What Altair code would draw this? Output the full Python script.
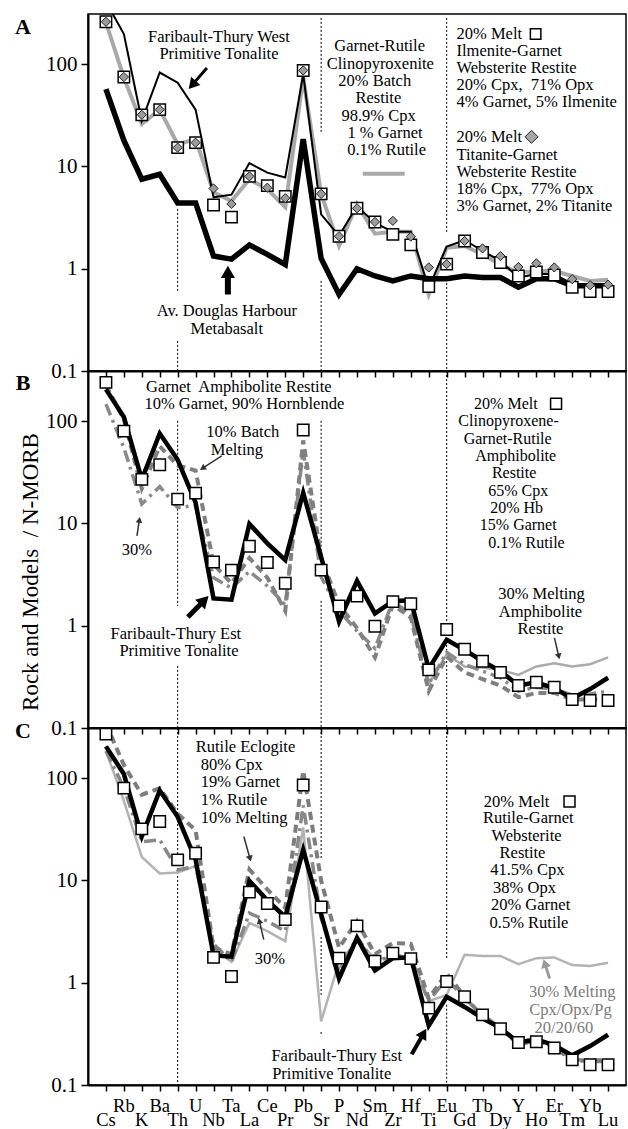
import math
import altair as alt
import pandas as pd

SERIF = "Liberation Serif"

elements = ["Cs", "Rb", "K", "Ba", "Th", "U", "Nb", "Ta", "La", "Ce", "Pr", "Pb", "Sr", "P",
            "Nd", "Sm", "Zr", "Hf", "Ti", "Eu", "Gd", "Tb", "Dy", "Y", "Ho", "Er", "Tm", "Yb", "Lu"]

# ---------------- Panel A ----------------
a_ft_west = [410, 197, 28, 83, 66, 36, 5.0, 5.3, 10.8, 8.7, 7.8, 80, 3.4, 2.1, 4.1, 2.8, 2.3, 2.3,
             0.65, 1.65, 1.9, 1.5, 1.19, 0.82, 0.89, 0.89, 0.71, 0.70, 0.70]
a_douglas = [57, 18, 7.5, 8.4, 4.4, 4.4, 1.33, 1.24, 1.71, 1.38, 1.1, 18.5, 1.26, 0.56, 1.0, 0.85,
             0.76, 0.85, 0.8, 0.8, 0.85, 0.82, 0.82, 0.66, 0.8, 0.8, 0.68, 0.68, 0.68]
a_model = [256, 74, 26, 36, 16.5, 18.5, 5.6, 4.6, 7.5, 6.0, 4.0, 74, 5.4, 1.67, 4.3, 2.2, 2.3, 2.3,
           0.56, 1.6, 1.67, 1.38, 1.1, 0.91, 0.95, 0.95, 0.85, 0.76, 0.78]
a_squares = [260, 75, 32, 36, 15.3, 17.1, 4.2, 3.2, 8.0, 6.5, 5.1, 87, 5.4, 2.08, 3.9, 2.87, 2.17, 1.71,
             0.668, 1.11, 1.87, 1.44, 1.15, 0.85, 0.93, 0.87, 0.66, 0.6, 0.6]
a_diamonds = [260, 75, 32, 36, 15.3, 17.1, 6.1, 4.3, 8.0, 6.2, 4.9, 87, 5.4, 2.08, 3.9, 2.87, 2.94, 2.06,
              1.03, 1.11, 1.87, 1.58, 1.33, 1.04, 1.13, 1.03, 0.79, 0.69, 0.7]

# ---------------- Panels B and C: rock ----------------
ft_est = [205, 110, 27, 76, 42, 16, 1.85, 1.8, 9.9, 6.4, 4.4, 20, 4.7, 1.1, 2.75, 1.32, 1.74, 1.78,
          0.38, 0.73, 0.58, 0.45, 0.36, 0.26, 0.28, 0.245, 0.195, 0.24, 0.31]

# ---------------- Panel B models ----------------
b_squares = [240, 80, 27, 37.6, 17.3, 19.8, 4.2, 3.5, 6.0, 4.15, 2.6, 82, 3.5, 1.56, 1.95, 0.99, 1.72,
             1.64, 0.37, 0.92, 0.59, 0.45, 0.35, 0.26, 0.28, 0.25, 0.19, 0.186, 0.186]
b_batch10 = [225, 105, 22, 57, 37, 33, 4.0, 2.6, 4.6, 2.95, 1.4, 65, 4.6, 1.6, 0.95, 0.49, 1.6, 1.2,
             0.23, 0.5, 0.35, 0.3, 0.26, 0.2, 0.22, 0.22, 0.19, 0.19, 0.19]
b_melt30 = [147, 55, 15.5, 23, 14.3, 15, 2.95, 2.34, 3.4, 2.45, 1.6, 52, 3.0, 1.4, 0.89, 0.6, 1.74,
            1.29, 0.27, 0.55, 0.42, 0.36, 0.31, 0.23, 0.25, 0.24, 0.21, 0.215, 0.23]
b_amph30 = [None] * 18 + [0.27, 0.53, 0.40, 0.39, 0.37, 0.33, 0.40, 0.43, 0.40, 0.42, 0.49]

# ---------------- Panel C models ----------------
c_squares = [270, 80, 32, 37.7, 15.9, 18.5, 1.77, 1.15, 7.7, 5.95, 4.15, 86, 5.5, 1.74, 3.6, 1.62, 1.95,
             1.72, 0.565, 1.03, 0.73, 0.485, 0.355, 0.26, 0.265, 0.23, 0.176, 0.158, 0.158]
c_melt10 = [340, 135, 69, 80, 45, 31, 2.2, 1.9, 12.8, 8.2, 5.4, 118, 10, 2.2, 4.0, 1.9, 2.45, 2.4,
            0.7, 1.24, 0.73, 0.47, 0.36, 0.25, 0.27, 0.24, 0.17, 0.175, 0.175]
c_melt30 = [185, 81, 24, 25, 12.7, 13.7, 2.4, 1.6, 4.8, 4.0, 3.2, 54, 4.3, 1.29, 2.8, 1.56, 1.88, 1.74,
            0.66, 1.1, 0.7, 0.49, 0.36, 0.26, 0.27, 0.24, 0.18, 0.17, 0.17]
c_cpx30 = [185, 60, 17, 11.7, 12, 13.8, 2.2, 1.6, 3.85, 3.2, 2.55, 33, 0.42, 1.6, 2.54, 1.74, 1.74,
           1.74, 0.66, 0.76, 1.88, 1.83, 1.83, 1.52, 1.74, 1.77, 1.49, 1.46, 1.57]

# ---------------- annotations (element index, value, text) ----------------
a_text_center = [
    (6.30, 185, "Faribault-Thury West"), (6.30, 126, "Primitive Tonalite"),
    (6.74, 0.386, "Av. Douglas Harbour"), (6.74, 0.258, "Metabasalt"),
    (15.26, 151, "Garnet-Rutile"), (15.3, 101, "Clinopyroxenite"), (14.99, 68.8, "20% Batch"),
    (15.19, 46.9, "Restite"), (15.2, 31.3, "98.9% Cpx"), (15.56, 21.3, "1 % Garnet"),
    (15.65, 14.5, "0.1% Rutile"),
]
a_text_left = [
    (19.55, 198, "20% Melt"), (19.55, 135, "Ilmenite-Garnet"), (19.55, 92.2, "Websterite Restite"),
    (19.55, 62.9, "20% Cpx,\u00a0 71% Opx"), (19.55, 42.9, "4% Garnet, 5% Ilmenite"),
    (19.55, 19.5, "20% Melt"), (19.55, 13.0, "Titanite-Garnet"), (19.55, 8.85, "Websterite Restite"),
    (19.55, 6.04, "18% Cpx,\u00a0 77% Opx"), (19.55, 4.11, "3% Garnet, 2% Titanite"),
]
b_text_center = [
    (7.41, 217, "Garnet\u00a0 Amphibolite Restite"), (7.72, 146, "10% Garnet, 90% Hornblende"),
    (7.63, 78.7, "10% Batch"), (7.30, 52.5, "Melting"), (1.73, 5.52, "30%"),
    (3.90, 0.832, "Faribault-Thury Est"), (4.07, 0.566, "Primitive Tonalite"),
    (24.29, 2.05, "30% Melting"), (24.23, 1.36, "Amphibolite"), (24.23, 0.93, "Restite"),
]
b_text_block = [
    (22.3, 148, "20% Melt"), (22.45, 100, "Clinopyroxene-"), (22.4, 67.6, "Garnet-Rutile"),
    (22.85, 45.8, "Amphibolite"), (22.76, 30.9, "Restite"), (22.99, 20.9, "65% Cpx"),
    (22.9, 14.1, "20% Hb"), (22.99, 9.56, "15% Garnet"), (23.45, 6.46, "0.1% Rutile"),
]
c_text_left = [
    (5.01, 204, "Rutile Eclogite"), (5.29, 136, "80% Cpx"), (5.29, 92.9, "19% Garnet"),
    (5.29, 61.9, "1% Rutile"), (5.29, 40.4, "10% Melting"),
]
c_text_center = [
    (9.14, 1.72, "30%"), (12.87, 0.194, "Faribault-Thury Est"), (12.59, 0.129, "Primitive Tonalite"),
    (22.9, 59.2, "20% Melt"), (23.55, 40.4, "Rutile-Garnet"), (23.45, 27.5, "Websterite"),
    (23.23, 18.7, "Restite"), (23.5, 12.8, "41.5% Cpx"), (23.34, 8.53, "38% Opx"),
    (23.68, 5.81, "20% Garnet"), (23.59, 3.87, "0.5% Rutile"),
]
c_text_grey = [(26.0, 0.818, "30% Melting"), (25.9, 0.545, "Cpx/Opx/Pg"), (25.54, 0.364, "20/20/60")]

# dotted separators: (element index, top value, bottom value)
a_dotted = [(4, 3.85, 0.607), (4, 0.197, 0.1), (12, 284, 20.8), (12, 0.76, 0.1), (19, 284, 2.19), (19, 0.726, 0.1)]
b_dotted = [(4, 101, 1.56), (4, 0.405, 0.1), (12, 101, 4.82), (12, 1.75, 0.1), (19, 310, 0.95), (19, 0.71, 0.1)]
c_dotted = [(4, 310, 0.1), (12, 310, 16.4), (12, 2.8, 0.76), (12, 0.33, 0.3), (19, 310, 1.72), (19, 0.61, 0.1)]

W, H = 538, 357
YMAX = 310
XS = alt.Scale(domain=[-1, 29], nice=False, zero=False)
YS = alt.Scale(type="log", domain=[0.1, YMAX], nice=False)
XAX = alt.Axis(values=list(range(29)), labels=False, title=None, grid=False, ticks=True, tickSize=6,
               tickWidth=1.5, tickColor="black", domainColor="black", domainWidth=2)
YAX = alt.Axis(values=[0.1, 1, 10, 100], format="~g", title=None, grid=False, tickSize=7, tickWidth=1.5,
               tickColor="black", domainColor="black", domainWidth=2, labelFont=SERIF, labelFontSize=21,
               labelColor="black", labelPadding=4)


def X(f="i"):
    return alt.X(f"{f}:Q", scale=XS, axis=XAX)


def Y(f="v"):
    return alt.Y(f"{f}:Q", scale=YS, axis=YAX)


def sdf(vals):
    return pd.DataFrame({"i": list(range(len(vals))), "v": vals}).dropna()


def line(vals, color, width, dash=None):
    kw = dict(color=color, strokeWidth=width, clip=True)
    if dash:
        kw["strokeDash"] = dash
    return alt.Chart(sdf(vals)).mark_line(**kw).encode(x=X(), y=Y())


def points(vals, shape, size, fill, stroke, sw):
    return alt.Chart(sdf(vals)).mark_point(shape=shape, size=size, filled=True, fill=fill, stroke=stroke,
                                           strokeWidth=sw, opacity=1, clip=True).encode(x=X(), y=Y())


def key(i, v, shape, size, fill, stroke, sw):
    return alt.Chart(pd.DataFrame({"i": [i], "v": [v]})).mark_point(
        shape=shape, size=size, filled=True, fill=fill, stroke=stroke, strokeWidth=sw, opacity=1
    ).encode(x=X(), y=Y())


def texts(rows, align="center", color="black", size=16.5):
    df = pd.DataFrame(rows, columns=["i", "v", "t"])
    return alt.Chart(df).mark_text(align=align, baseline="middle", font=SERIF, fontSize=size,
                                   color=color).encode(x=X(), y=Y(), text="t:N")


def dotted(rows):
    df = pd.DataFrame(rows, columns=["i", "v", "v2"])
    return alt.Chart(df).mark_rule(color="black", strokeWidth=1, strokeDash=[2, 2]).encode(
        x=X(), y=Y(), y2="v2:Q")


PXI = W / 30
PXD = H / (math.log10(YMAX) + 1)


def to_px(i, v):
    return ((i + 1) * PXI, (math.log10(YMAX) - math.log10(v)) * PXD)


def from_px(x, y):
    return (x / PXI - 1, 10 ** (math.log10(YMAX) - y / PXD))


def arrow(tail, head, color, width, hsize):
    tx, ty = to_px(*tail)
    hx, hy = to_px(*head)
    dx, dy = hx - tx, hy - ty
    L = math.hypot(dx, dy)
    ux, uy = dx / L, dy / L
    h = 0.433 * math.sqrt(hsize)
    ci, cv = from_px(hx - h * ux, hy - h * uy)
    ei, ev = from_px(hx - 1.5 * h * ux, hy - 1.5 * h * uy)
    ang = math.degrees(math.atan2(dx, -dy)) % 360
    shaft = alt.Chart(pd.DataFrame({"i": [tail[0]], "v": [tail[1]], "i2": [ei], "v2": [ev]})).mark_rule(
        color=color, strokeWidth=width).encode(x=X(), y=Y(), x2="i2:Q", y2="v2:Q")
    tip = alt.Chart(pd.DataFrame({"i": [ci], "v": [cv]})).mark_point(
        shape="triangle-up", size=hsize, filled=True, color=color, opacity=1, angle=ang).encode(x=X(), y=Y())
    return [shaft, tip]


def letter(ch, yoff):
    return alt.Chart(pd.DataFrame({"t": [ch]})).mark_text(
        font=SERIF, fontSize=22, fontWeight="bold", align="center", baseline="middle", color="black"
    ).encode(text="t:N", x=alt.value(-65), y=alt.value(yoff))


SQ = dict(shape="square", size=130, fill="white", stroke="black", sw=1.5)

# ---------------- Panel A ----------------
layersA = [
    dotted(a_dotted),
    line(a_model, "#a9a9a9", 4),
    line(a_douglas, "black", 5.5),
    line(a_ft_west, "black", 2),
    points(a_squares, **SQ),
    points(a_diamonds, "diamond", 85, "#9c9c9c", "#222222", 1),
    texts(a_text_center),
    texts(a_text_left, align="left"),
    alt.Chart(pd.DataFrame({"i": [14.32], "v": [8.47], "i2": [16.66]})).mark_rule(
        color="#a9a9a9", strokeWidth=4).encode(x=X(), y=Y(), x2="i2:Q"),
    key(23.96, 198, "square", 110, "white", "black", 1.5),
    key(23.73, 19.5, "diamond", 170, "#a6a6a6", "#222222", 1),
    letter("A", 13),
]
layersA += arrow((5.63, 92), (4.62, 57.4), "black", 3, 150)
layersA += arrow((6.8, 0.56), (6.8, 1.07), "black", 6, 200)
panelA = alt.layer(*layersA).properties(width=W, height=H)

# ---------------- Panel B ----------------
layersB = [
    dotted(b_dotted),
    line(b_amph30, "#ababab", 2.5),
    line(b_melt30, "#8a8a8a", 3.5, [12, 5, 3, 5]),
    line(b_batch10, "#808080", 4, [8, 5]),
    line(ft_est, "black", 4.5),
    points(b_squares, **SQ),
    texts(b_text_center),
    texts(b_text_block, size=16),
    key(25.1, 148, "square", 120, "white", "black", 1.5),
    letter("B", 12),
    alt.Chart(pd.DataFrame({"t": ["Rock and Models\u00a0 / N-MORB"]})).mark_text(
        angle=270, font=SERIF, fontSize=23, align="center", baseline="middle", color="black"
    ).encode(text="t:N", x=alt.value(-57), y=alt.value(201)),
]
layersB += arrow((6.46, 45.8), (5.24, 33.4), "#333333", 1.5, 50)
layersB += arrow((1.73, 7.57), (1.89, 11.6), "#333333", 1.5, 45)
layersB += arrow((4.57, 1.22), (5.72, 1.95), "black", 5, 190)
layersB += arrow((25.01, 0.76), (25.29, 0.47), "#333333", 1.5, 45)
panelB = alt.layer(*layersB).properties(width=W, height=H)

# ---------------- Panel C ----------------
lab = pd.DataFrame({"i": list(range(len(elements))), "t": elements,
                    "row": [k % 2 for k in range(len(elements))]})
lab_top = alt.Chart(lab).transform_filter("datum.row == 1").mark_text(
    font=SERIF, fontSize=18.5, baseline="alphabetic", align="center", color="black"
).encode(x=X(), y=alt.value(H + 27), text="t:N")
lab_bot = alt.Chart(lab).transform_filter("datum.row == 0").mark_text(
    font=SERIF, fontSize=18.5, baseline="alphabetic", align="center", color="black"
).encode(x=X(), y=alt.value(H + 41), text="t:N")

layersC = [
    dotted(c_dotted),
    line(c_cpx30, "#b3b3b3", 2.5),
    line(c_melt30, "#888888", 3.5, [12, 5, 3, 5]),
    line(c_melt10, "#7d7d7d", 4, [8, 5]),
    line(ft_est, "black", 4.5),
    points(c_squares, **SQ),
    texts(c_text_left, align="left"),
    texts(c_text_center),
    texts(c_text_grey, color="#7a7a7a"),
    key(25.85, 59.2, "square", 120, "white", "black", 1.5),
    letter("C", 3),
    lab_top,
    lab_bot,
]
layersC += arrow((7.69, 26.9), (8.08, 15.3), "#333333", 1.5, 50)
layersC += arrow((8.80, 2.64), (8.52, 4.3), "#333333", 1.5, 45)
layersC += arrow((17.05, 0.2), (17.86, 0.355), "black", 4, 150)
layersC += arrow((24.74, 1.10), (24.40, 1.70), "#9a9a9a", 3, 100)
panelC = alt.layer(*layersC).properties(width=W, height=H)

chart = alt.vconcat(panelA, panelB, panelC, spacing=0, bounds="flush").properties(
    padding={"left": 14, "top": 13, "right": 0, "bottom": 0}
).configure(font=SERIF).configure_view(stroke="black", strokeWidth=1.5)

chart.save("out.html", embed_options={"renderer": "svg", "actions": False})
